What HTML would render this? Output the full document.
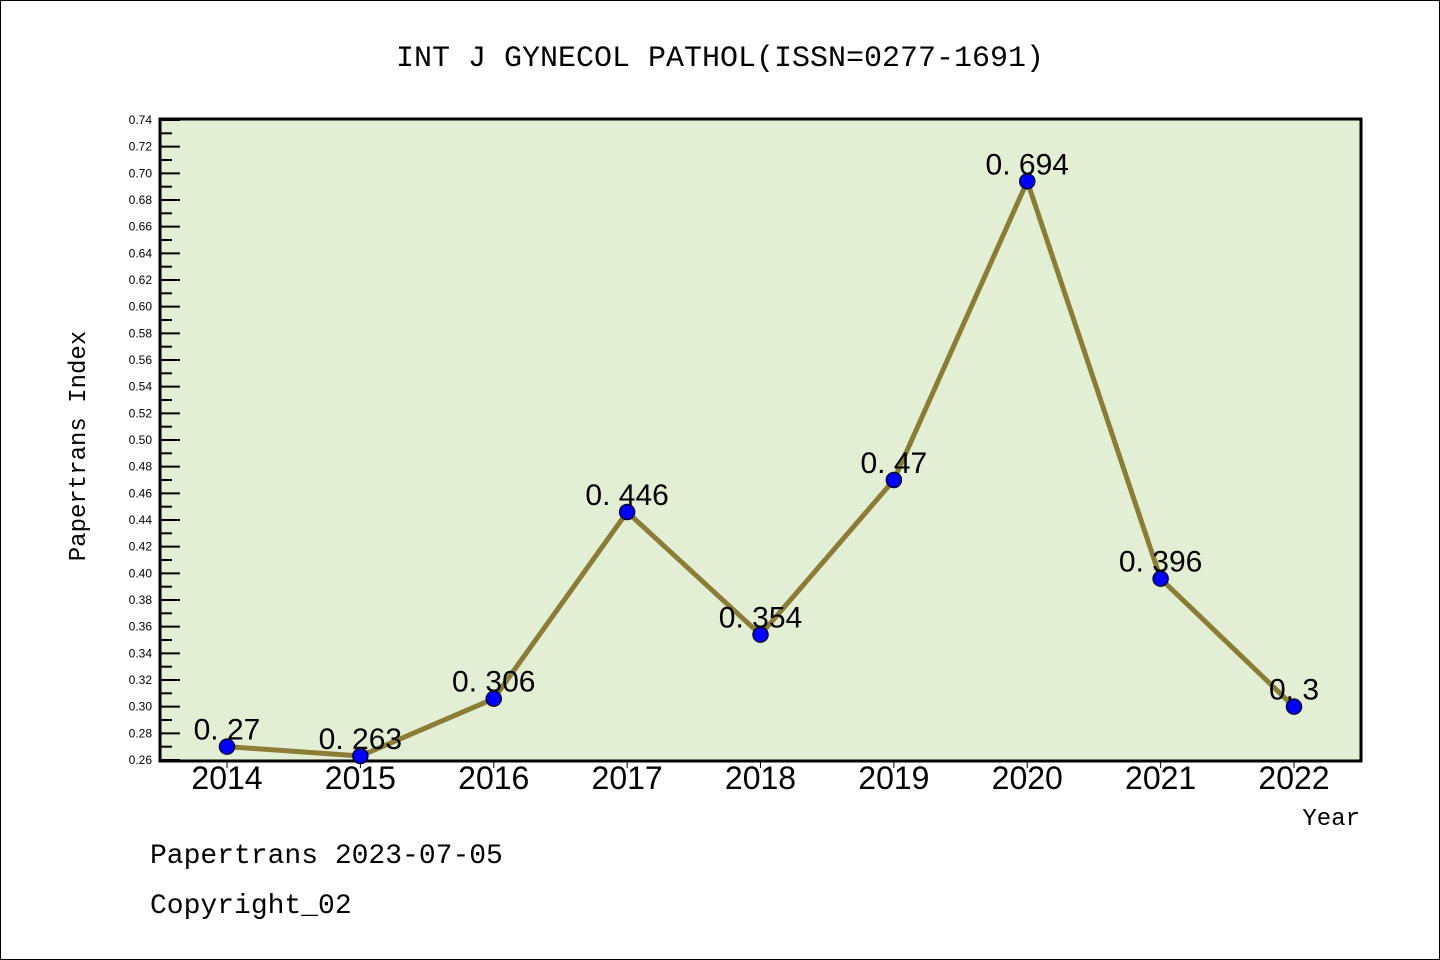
<!DOCTYPE html>
<html><head><meta charset="utf-8"><style>
body{margin:0;background:#fff}
svg{display:block;font-family:"Liberation Sans",sans-serif}
.m{font-family:"Liberation Mono",monospace}
</style></head><body>
<svg id="c" width="1440" height="960">
<rect x="0.5" y="0.5" width="1439" height="959" fill="#fff" stroke="#000"/>
<text class="m" x="720" y="66" font-size="30" text-anchor="middle">INT J GYNECOL PATHOL(ISSN=0277-1691)</text>
<rect x="160" y="119" width="1201" height="642" fill="#e2efd5" stroke="#000" stroke-width="3"/>
<g id="yax"></g>
<g id="xax"></g>
<g id="series"></g>
<text class="m" x="85" y="446" font-size="24" text-anchor="middle" transform="rotate(-90 85 446)">Papertrans Index</text>
<text class="m" x="1360" y="825" font-size="24" text-anchor="end">Year</text>
<text class="m" x="150" y="863" font-size="28">Papertrans 2023-07-05</text>
<text class="m" x="150" y="913" font-size="28">Copyright_02</text>
</svg>
<script>
const years=["2014","2015","2016","2017","2018","2019","2020","2021","2022"];
const values=[0.27,0.263,0.306,0.446,0.354,0.47,0.694,0.396,0.3];
const labels=["0.27","0.263","0.306","0.446","0.354","0.47","0.694","0.396","0.3"];
const yMin=0.26,yMax=0.74;
const NS="http://www.w3.org/2000/svg";
const x=i=>227+i*(1294-227)/(years.length-1);
const y=v=>760-(v-yMin)/(yMax-yMin)*640;
function mk(t,a,p){const e=document.createElementNS(NS,t);for(const k in a)e.setAttribute(k,a[k]);p.appendChild(e);return e;}
const yax=document.getElementById('yax'),xax=document.getElementById('xax'),s=document.getElementById('series');
for(let k=0;k<=48;k++){const v=yMin+k*0.01,yy=y(v);
 const t=mk('line',{x1:161,x2:k%2?172:180,y1:yy,y2:yy,stroke:'#000','stroke-width':2},yax);
 
 if(k%2==0){const l=mk('text',{x:152,y:yy+4,'font-size':12,'text-anchor':'end'},yax);l.textContent=v.toFixed(2);
 }}
years.forEach((yr,i)=>{const t=mk('line',{x1:x(i),x2:x(i),y1:760,y2:768,stroke:'#000','stroke-width':1},xax);
 
 const l=mk('text',{x:x(i),y:789,'font-size':32,'text-anchor':'middle'},xax);l.textContent=yr;
 });
const pl=mk('polyline',{points:values.map((v,i)=>x(i)+','+y(v)).join(' '),fill:'none',stroke:'#8b7d36','stroke-width':5},s);

values.forEach((v,i)=>{const c=mk('circle',{cx:x(i),cy:y(v),r:7.5,fill:'#0000ff',stroke:'#000033','stroke-width':1.5},s);
 
 const l=mk('text',{x:x(i),y:y(v)-7,'font-size':30,'text-anchor':'middle'},s);l.textContent=labels[i].replace('.','. ');
 });
</script>
</body></html>
